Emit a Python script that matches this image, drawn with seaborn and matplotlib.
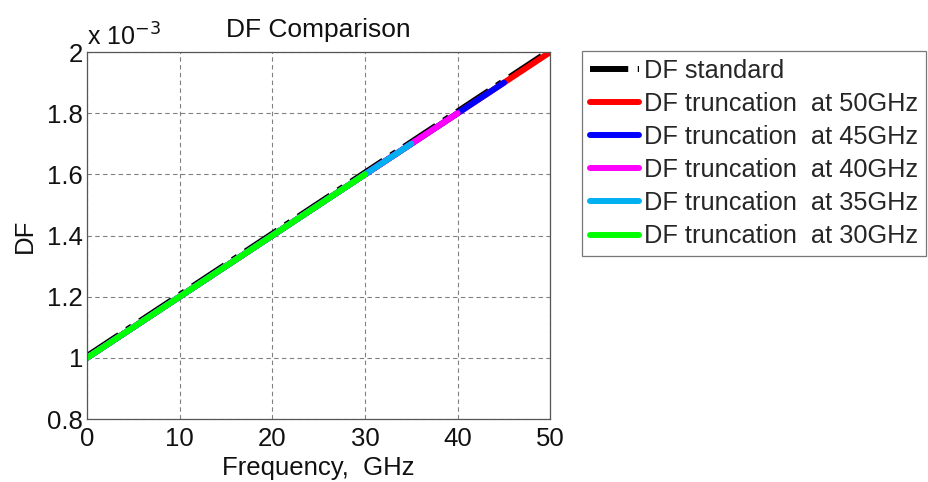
import matplotlib
matplotlib.use("Agg")
import matplotlib.pyplot as plt
import seaborn as sns

# Frequency points (GHz) and DF values (in units of 1e-3)
freq_std = [0, 10, 20, 30, 40, 50]
df_std = [1.006, 1.206, 1.406, 1.606, 1.806, 2.006]

freq_50 = [0, 10, 20, 30, 40, 50]
df_50 = [1.0, 1.2, 1.4, 1.6, 1.8, 2.0]
freq_45 = [0, 10, 20, 30, 40, 45]
df_45 = [1.0, 1.2, 1.4, 1.6, 1.8, 1.9]
freq_40 = [0, 10, 20, 30, 40]
df_40 = [1.0, 1.2, 1.4, 1.6, 1.8]
freq_35 = [0, 10, 20, 30, 35]
df_35 = [1.0, 1.2, 1.4, 1.6, 1.7]
freq_30 = [0, 10, 20, 30]
df_30 = [1.0, 1.2, 1.4, 1.6]

labels = ["DF standard", "DF truncation  at 50GHz", "DF truncation  at 45GHz",
          "DF truncation  at 40GHz", "DF truncation  at 35GHz", "DF truncation  at 30GHz"]
colors = ["#000000", "#FF0000", "#0000FF", "#FF00FF", "#00B0F0", "#00FF00"]

x_ticks = [0, 10, 20, 30, 40, 50]
y_ticks = [0.8, 1.0, 1.2, 1.4, 1.6, 1.8, 2.0]
y_tick_labels = ["0.8", "1", "1.2", "1.4", "1.6", "1.8", "2"]

sns.set_theme(style="white")
plt.rcParams["font.family"] = ["Liberation Sans", "DejaVu Sans"]

fig = plt.figure(figsize=(9.29, 4.82), dpi=100)
ax = fig.add_axes([0.0937, 0.1307, 0.4987, 0.7613])

series = [(freq_std, df_std), (freq_50, df_50), (freq_45, df_45),
          (freq_40, df_40), (freq_35, df_35), (freq_30, df_30)]
# truncations drawn from widest to narrowest so green ends up on top
for i in [1, 2, 3, 4, 5]:
    f, d = series[i]
    sns.lineplot(x=f, y=d, color=colors[i], linewidth=4.3, ax=ax, label=labels[i])
f, d = series[0]
sns.lineplot(x=f, y=d, color=colors[0], linewidth=4.3, linestyle="-.", ax=ax,
             label=labels[0], zorder=1)

ax.set_xlim(0, 50)
ax.set_ylim(0.8, 2.0)
ax.set_xticks(x_ticks)
ax.set_yticks(y_ticks)
ax.set_yticklabels(y_tick_labels)
ax.tick_params(axis="both", labelsize=18.5, direction="in", length=0, colors="#111111")
ax.tick_params(axis="x", pad=6)
ax.tick_params(axis="y", pad=3)
ax.grid(True, linestyle=(0, (4, 3)), color="#808080", linewidth=0.8)
for s in ax.spines.values():
    s.set_color("#555555")
    s.set_linewidth(0.9)

ax.set_title("DF Comparison", fontsize=19, color="#111111", pad=11)
ax.set_xlabel("Frequency,  GHz", fontsize=18.5, color="#111111", labelpad=3)
ax.set_ylabel("DF", fontsize=18.5, color="#111111", labelpad=7)
ax.text(0.0, 1.005, "x 10$^{-3}$", transform=ax.transAxes, fontsize=18,
        color="#111111", ha="left", va="bottom")

handles, labs = ax.get_legend_handles_labels()
order = [labs.index(l) for l in labels]
leg = ax.legend([handles[i] for i in order], [labs[i] for i in order],
                loc="upper left", bbox_to_anchor=(0.6265, 0.894),
                bbox_transform=fig.transFigure, fontsize=18.3, frameon=True,
                fancybox=False, handlelength=1.95, handletextpad=0.2,
                labelspacing=0.36, borderpad=0.3, borderaxespad=0)
leg.get_frame().set_edgecolor("#555555")
leg.get_frame().set_linewidth(0.9)
for line in leg.get_lines():
    line.set_linewidth(4.3)

fig.savefig("out.png", dpi=100, facecolor="white")
